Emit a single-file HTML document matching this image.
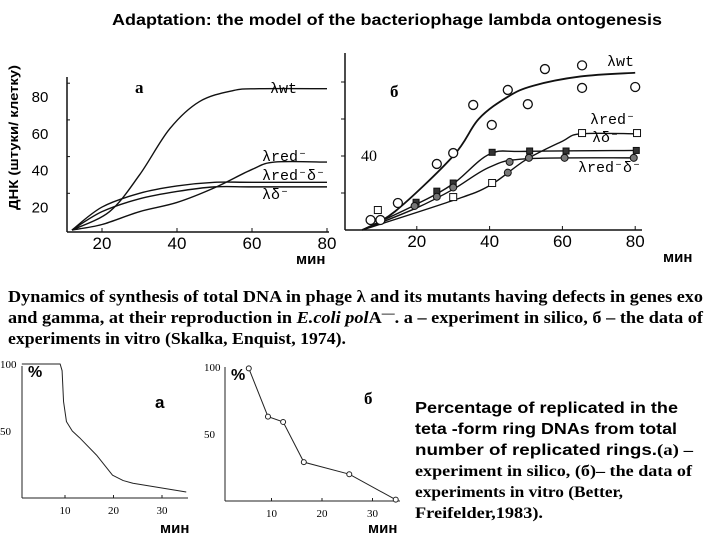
<!DOCTYPE html>
<html><head><meta charset="utf-8"><style>
body{margin:0;background:#fff;width:720px;height:540px;overflow:hidden}
svg{display:block}
.ar{font-family:"Liberation Sans",sans-serif}
.tm{font-family:"Liberation Serif",serif}
.mo{font-family:"Liberation Mono",monospace}
</style></head><body>
<svg id="s" width="720" height="540" viewBox="0 0 720 540">
<text x="112" y="25" textLength="550" lengthAdjust="spacingAndGlyphs" class="ar" font-size="16" font-weight="bold">Adaptation: the model of the bacteriophage lambda ontogenesis</text>
<text transform="translate(18,210) rotate(-90)" textLength="145" lengthAdjust="spacingAndGlyphs" class="ar" font-size="13" font-weight="bold">ДНК (штуки/ клетку)</text>
<g id="pa"></g>
<g id="pb"></g>
<g id="pc"></g>
<g id="pd"></g>
<text x="135" y="93" class="tm" font-size="17" font-weight="bold">а</text>
<text x="390" y="97" class="tm" font-size="17" font-weight="bold">б</text>
<text x="296" y="264" class="ar" font-size="15" font-weight="bold">мин</text>
<text x="663" y="262" class="ar" font-size="15" font-weight="bold">мин</text>
<g class="tm" font-size="17" font-weight="bold">
<text x="8" y="302" textLength="695" lengthAdjust="spacingAndGlyphs">Dynamics of synthesis of total DNA in phage λ and its mutants having defects in genes exo</text>
<text x="8" y="323" textLength="695" lengthAdjust="spacingAndGlyphs">and gamma, at their reproduction in <tspan font-style="italic">E.coli pol</tspan>A<tspan dy="-6" font-size="12">—</tspan><tspan dy="6">. a – experiment in silico, б – the data of</tspan></text>
<text x="8" y="344" textLength="338" lengthAdjust="spacingAndGlyphs">experiments in vitro (Skalka, Enquist, 1974).</text>
</g>
<text x="155" y="408" class="ar" font-size="17" font-weight="bold">а</text>
<text x="364" y="404" class="tm" font-size="17" font-weight="bold">б</text>
<text x="160" y="533" class="ar" font-size="15" font-weight="bold">мин</text>
<text x="368" y="533" class="ar" font-size="15" font-weight="bold">мин</text>
<text x="28" y="377" class="ar" font-size="16" font-weight="bold">%</text>
<text x="231" y="380" class="ar" font-size="16" font-weight="bold">%</text>
<g>
<text x="415" y="413" textLength="263" lengthAdjust="spacingAndGlyphs" class="ar" font-size="16" font-weight="bold">Percentage of replicated in the</text>
<text x="415" y="434" textLength="262" lengthAdjust="spacingAndGlyphs" class="ar" font-size="16" font-weight="bold">teta -form ring DNAs from total</text>
<text x="415" y="455" textLength="278" lengthAdjust="spacingAndGlyphs" class="ar" font-size="16" font-weight="bold">number of replicated rings.<tspan class="tm">(a) –</tspan></text>
<text x="415" y="476" textLength="277" lengthAdjust="spacingAndGlyphs" class="tm" font-size="16" font-weight="bold">experiment in silico, (б)– the data of</text>
<text x="415" y="497" textLength="208" lengthAdjust="spacingAndGlyphs" class="tm" font-size="16" font-weight="bold">experiments in vitro (Better,</text>
<text x="415" y="518" textLength="128" lengthAdjust="spacingAndGlyphs" class="tm" font-size="16" font-weight="bold">Freifelder,1983).</text>
</g>
</svg>
<script>
// Chart A (model) data
const aWtX=[12,22,30,38,46,55,62,80], aWtY=[0,10,30,55,70,76,77,77];
const aRedX=[12,20,30,40,50,60,66,80], aRedY=[0,3,10,15,23,33,37,37];
const aRgX=[12,20,30,40,50,60,80], aRgY=[0,12.5,20,24,26,26,26];
const aGX=[12,20,30,40,50,60,80], aGY=[0,10,17,21,23.5,23.5,23.5];
const aXTicks=[20,40,60,80], aYTicks=[20,40,60,80];
// Chart B (experiment) data
const bWtX=[5,14,30,37,45,52,65,80], bWtY=[0,10,40,60,72,78,83,85];
const bWtPX=[7.3,10,14.8,25.5,30,35.5,40.6,45,50.5,55.2,65.4,65.4,80];
const bWtPY=[5.4,5.4,14.6,35.7,41.6,67.6,56.8,75.7,68,87,89,76.8,77.3];
const bRedX=[5,30,40,50,60,65,80], bRedY=[0,16,24,38,48,52,52];
const bRedPX=[9.3,30,40.7,65.4,80.5], bRedPY=[10.8,17.8,25.4,52.4,52.4];
const bGX=[5,20,30,40,50,80], bGY=[0,14,25,41,42.5,43];
const bGPX=[19.8,25.5,30,40.7,51,61,80.3], bGPY=[15,21,25.4,42,42.7,42.7,43];
const bRgX=[5,20,30,40,50,80], bRgY=[0,12,22,34,38.5,39];
const bRgPX=[19.4,25.5,30,45,45.5,50.8,60.6,79.6], bRgPY=[13,18,23,31,36.8,39,39,39];
const bXTicks=[20,40,60,80], bYTicks=[20,40,60,80];
// Chart C (model percent)
const cX=[1.1,9.0,9.4,9.7,10.3,11.5,13,16.5,19.8,22,24,35], cY=[100,100,95,72,57,50,45,32,17,13,11,4.5];
const cXTicks=[10,20,30];
// Chart D (experiment percent)
const dX=[5.5,9.3,12.3,16.4,25.4,34.6], dY=[99,63,59,29,20,1];
const dXTicks=[10,20,30];

const NS='http://www.w3.org/2000/svg';
function el(g,t,a){const e=document.createElementNS(NS,t);for(const k in a)e.setAttribute(k,a[k]);g.appendChild(e);return e;}
function smooth(pts){let d='M'+pts[0][0]+','+pts[0][1];for(let i=0;i<pts.length-1;i++){const p0=pts[i-1]||pts[i],p1=pts[i],p2=pts[i+1],p3=pts[i+2]||p2;
d+=' C'+(p1[0]+(p2[0]-p0[0])/6)+','+(p1[1]+(p2[1]-p0[1])/6)+' '+(p2[0]-(p3[0]-p1[0])/6)+','+(p2[1]-(p3[1]-p1[1])/6)+' '+p2[0]+','+p2[1];}return d;}
function curve(g,sx,sy,xs,ys,name,w){const p=el(g,'path',{d:smooth(xs.map((x,i)=>[sx(x),sy(ys[i])])),fill:'none',stroke:'#111','stroke-width':w||1.4});

}
function txt(g,x,y,s,fs,anchor,cls){const t=el(g,'text',{x:x,y:y,'font-size':fs,'text-anchor':anchor||'middle',class:cls||'ar'});t.textContent=s;return t;}

// Chart A
(function(){const g=document.getElementById('pa');
const sx=v=>102+(v-20)*3.75, sy=v=>230-v*36.7/20;
el(g,'line',{x1:67,y1:77,x2:67,y2:232,stroke:'#111','stroke-width':1.5});
el(g,'line',{x1:67,y1:232,x2:329,y2:232,stroke:'#111','stroke-width':1.5});
aXTicks.forEach(v=>{el(g,'line',{x1:sx(v),y1:232,x2:sx(v),y2:228,stroke:'#111'});
const t=txt(g,sx(v),249,String(v),17);

});
aYTicks.forEach(v=>{el(g,'line',{x1:67,y1:sy(v),x2:70,y2:sy(v),stroke:'#111'});
const t=txt(g,40,sy(v)+19,String(v),15);

});
curve(g,sx,sy,aWtX,aWtY,'curve-a-wt');curve(g,sx,sy,aRedX,aRedY,'curve-a-red');
curve(g,sx,sy,aRgX,aRgY,'curve-a-red-gamma');curve(g,sx,sy,aGX,aGY,'curve-a-gamma');
[['λwt',270,93],['λred⁻',262,161],['λred⁻δ⁻',262,180],['λδ⁻',262,199]].forEach(l=>{const t=txt(g,l[1],l[2],l[0],15,'start','mo');

});
})();
// Chart B
(function(){const g=document.getElementById('pb');
const sx=v=>344+v*3.64, sy=v=>230-v*37/20;
el(g,'line',{x1:345,y1:53,x2:345,y2:230,stroke:'#111','stroke-width':1.5});
el(g,'line',{x1:345,y1:230,x2:642,y2:230,stroke:'#111','stroke-width':1.5});
bXTicks.forEach(v=>{el(g,'line',{x1:sx(v),y1:230,x2:sx(v),y2:226,stroke:'#111'});
const t=txt(g,sx(v),247,String(v),17);

});
bYTicks.forEach(v=>{el(g,'line',{x1:341,y1:sy(v),x2:345,y2:sy(v),stroke:'#111'});});
const t40=txt(g,369,161,'40',16,'middle','tm');


curve(g,sx,sy,bWtX,bWtY,'curve-b-wt',1.8);curve(g,sx,sy,bRedX,bRedY,'curve-b-red');
curve(g,sx,sy,bGX,bGY,'curve-b-gamma');curve(g,sx,sy,bRgX,bRgY,'curve-b-red-gamma');
bWtPX.forEach((x,i)=>{const c=el(g,'circle',{cx:sx(x),cy:sy(bWtPY[i]),r:4.5,fill:'#fff',stroke:'#111','stroke-width':1.3});

});
bRedPX.forEach((x,i)=>{const c=el(g,'rect',{x:sx(x)-3.5,y:sy(bRedPY[i])-3.5,width:7,height:7,fill:'#fff',stroke:'#111'});

});
bGPX.forEach((x,i)=>{const c=el(g,'rect',{x:sx(x)-3,y:sy(bGPY[i])-3,width:6,height:6,fill:'#333',stroke:'#111'});

});
bRgPX.forEach((x,i)=>{const c=el(g,'circle',{cx:sx(x),cy:sy(bRgPY[i]),r:3.5,fill:'#777',stroke:'#111'});

});
[['λwt',607,66],['λred⁻',590,124],['λδ⁻',592,142],['λred⁻δ⁻',578,172]].forEach(l=>{const t=txt(g,l[1],l[2],l[0],15,'start','mo');

});
})();
// Chart C
(function(){const g=document.getElementById('pc');
const sx=v=>16.5+v*4.85, sy=v=>498-v*1.34;
el(g,'line',{x1:22,y1:366,x2:22,y2:498,stroke:'#222'});
el(g,'line',{x1:22,y1:498,x2:188,y2:498,stroke:'#222'});
cXTicks.forEach(v=>{el(g,'line',{x1:sx(v),y1:498,x2:sx(v),y2:495,stroke:'#222'});
const t=txt(g,sx(v),514,String(v),11,'middle','tm');

});
[['100',100],['50',50]].forEach(l=>{const t=txt(g,0,sy(l[1])+4,l[0],11,'start','tm');

});
const p=el(g,'polyline',{points:cX.map((x,i)=>sx(x)+','+sy(cY[i])).join(' '),fill:'none',stroke:'#222','stroke-linejoin':'round'});


})();
// Chart D
(function(){const g=document.getElementById('pd');
const sx=v=>221+v*5.05, sy=v=>501-v*1.34;
el(g,'line',{x1:225,y1:367,x2:225,y2:501,stroke:'#222'});
el(g,'line',{x1:225,y1:501,x2:400,y2:501,stroke:'#222'});
dXTicks.forEach(v=>{el(g,'line',{x1:sx(v),y1:501,x2:sx(v),y2:498,stroke:'#222'});
const t=txt(g,sx(v),517,String(v),11,'middle','tm');

});
[['100',100],['50',50]].forEach(l=>{const t=txt(g,204,sy(l[1])+4,l[0],11,'start','tm');

});
const p=el(g,'polyline',{points:dX.map((x,i)=>sx(x)+','+sy(dY[i])).join(' '),fill:'none',stroke:'#222'});


dX.forEach((x,i)=>{const c=el(g,'circle',{cx:sx(x),cy:sy(dY[i]),r:2.5,fill:'#fff',stroke:'#222'});

});
})();
</script>
</body></html>
